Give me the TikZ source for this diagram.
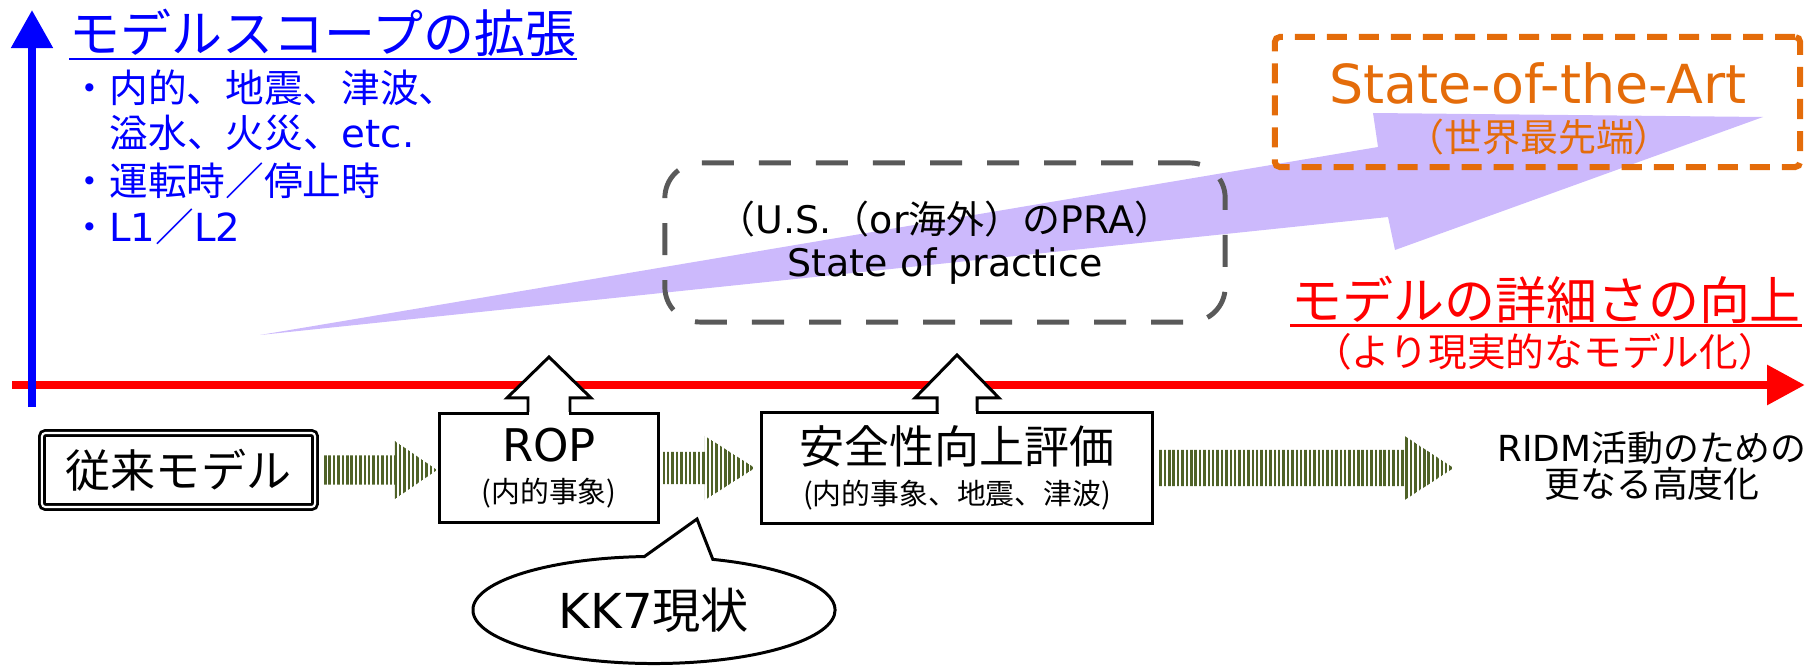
\documentclass[tikz,border=0pt]{standalone}
\usepackage{fontspec}
\setmainfont{Noto Sans CJK JP}
\newfontfamily\latinfont{DejaVu Sans}
\usetikzlibrary{arrows.meta}
\usetikzlibrary{calc}
\usetikzlibrary{shapes.callouts}
\usetikzlibrary{patterns.meta}
\pgfdeclarelayer{edgelayer}
\pgfdeclarelayer{nodelayer}
\pgfsetlayers{edgelayer,nodelayer,main}
\definecolor{scopeblue}{RGB}{0,0,255}
\definecolor{detailred}{RGB}{255,0,0}
\definecolor{artorange}{RGB}{228,108,10}
\definecolor{practgray}{RGB}{89,89,89}
\definecolor{wedgepurple}{RGB}{204,185,252}
\definecolor{stripegreen}{RGB}{79,98,40}
\newcommand{\subfont}{\fontsize{8.2pt}{10pt}\selectfont}
\tikzstyle{oldbox}=[rectangle,draw=black,double,double distance=0.6pt,line width=0.8pt,rounded corners=1pt,minimum width=2.73cm,minimum height=0.74cm,font=\fontsize{12.8pt}{14pt}\selectfont]
\tikzstyle{stage}=[rectangle,draw=black,fill=white,line width=0.85pt,outer sep=0pt,align=center,font=\fontsize{12.8pt}{11.7pt}\selectfont]
\tikzstyle{bubble}=[ellipse callout,draw=black,fill=white,line width=0.85pt,inner sep=0pt,minimum width=3.62cm,minimum height=1.07cm,callout pointer arc=22,font=\fontsize{13.7pt}{15pt}\selectfont]
\tikzstyle{practice}=[rectangle,draw=practgray,line width=1.4pt,dash pattern=on 0.32cm off 0.25cm,rounded corners=0.35cm,minimum width=5.6cm,minimum height=1.59cm,align=center,font=\fontsize{10.8pt}{12.2pt}\selectfont]
\tikzstyle{artbox}=[rectangle,draw=artorange,line width=1.7pt,dash pattern=on 0.2cm off 0.12cm,rounded corners=0.05cm,minimum width=5.25cm,minimum height=1.3cm]
\tikzstyle{heading}=[inner sep=0pt,font=\fontsize{14.5pt}{16pt}\selectfont]
\tikzstyle{listline}=[anchor=west,inner sep=0pt,text=scopeblue,font=\fontsize{11pt}{12pt}\selectfont]
\tikzstyle{uline}=[line width=0.6pt]
\tikzstyle{axis}=[line width=2.4pt]
\tikzstyle{stripes}=[pattern={Lines[angle=90,distance=1.25pt,line width=0.7pt]},pattern color=stripegreen]
\tikzstyle{uparrow}=[draw=black,fill=white,line width=0.85pt,line join=miter]

\begin{document}
\begin{tikzpicture}[x=0.01cm,y=-0.01cm]
	\useasboundingbox (0,0) rectangle (1816,670);
	\begin{pgfonlayer}{nodelayer}
		\node [style=oldbox] (0) at (178.5, 470) {従来モデル};
		\node [style=stage, minimum width=2.18cm, minimum height=1.08cm] (1) at (549, 468) {{\latinfont ROP}\\{\subfont (内的事象)}};
		\node [style=stage, minimum width=3.9cm, minimum height=1.1cm] (2) at (957, 468) {安全性向上評価\\{\subfont (内的事象、地震、津波)}};
		\node [align=center, inner sep=0pt, font=\fontsize{10.2pt}{10.2pt}\selectfont] (3) at (1652, 466) {{\latinfont RIDM}活動のための\\更なる高度化};
		\coordinate (20) at (697, 519);
		\node [style=bubble, callout absolute pointer={(20)}] (4) at (654, 610) {{\latinfont KK7}現状};
		\node [style=practice] (5) at (945, 242.5) {（{\latinfont U.S.}（{\latinfont or}海外）の{\latinfont PRA}）\\{\latinfont State of practice}};
		\node [style=artbox] (6) at (1537.5, 102) {};
		\node [text=artorange, inner sep=0pt, font=\fontsize{15.3pt}{16pt}\selectfont\latinfont] (14) at (1538, 83) {State-of-the-Art};
		\node [text=artorange, inner sep=0pt, font=\fontsize{10.8pt}{11pt}\selectfont] (15) at (1539, 137) {（世界最先端）};
		\node [style=heading, text=scopeblue, anchor=west] (7) at (69, 33) {モデルスコープの拡張};
		\node [style=listline] (8) at (70, 88) {・内的、地震、津波、};
		\node [style=listline] (9) at (109, 133) {溢水、火災、{\latinfont etc.}};
		\node [style=listline] (10) at (70, 181) {・運転時／停止時};
		\node [style=listline] (11) at (70, 227) {・{\latinfont L1}／{\latinfont L2}};
		\node [style=heading, text=detailred] (12) at (1546, 300) {モデルの詳細さの向上};
		\node [text=detailred, inner sep=0pt, font=\fontsize{11pt}{12pt}\selectfont] (13) at (1545, 352) {（より現実的なモデル化）};
	\end{pgfonlayer}
	\begin{pgfonlayer}{edgelayer}
		% widening arrow towards the state of the art
		\fill [wedgepurple] (260, 335) -- (1378, 147) -- (1373, 113) -- (1763, 117) -- (1395, 250) -- (1388, 217) -- cycle;
		\coordinate (16) at (12, 385);
		\coordinate (17) at (1805, 385);
		\coordinate (18) at (32, 407);
		\coordinate (19) at (32, 10);
		\draw [style=axis, draw=detailred, line width=2.55pt, -{Triangle[length=0.38cm,width=0.38cm]}] (16) to (17);
		\draw [style=axis, draw=scopeblue, line width=2.3pt, -{Triangle[length=0.38cm,width=0.4cm]}] (18) to (19);
		\draw [style=uline, draw=scopeblue] ([yshift=-0.015cm]7.south west) to ([yshift=-0.015cm]7.south east);
		\draw [style=uline, draw=detailred] ([yshift=-0.01cm]12.south west) to ([yshift=-0.01cm]12.south east);
		% striped arrows between the stages
		\fill [style=stripes] let \p1=(0.east), \p2=(1.west) in (\x1+0.06cm,\y1+0.145cm) -- (\x2-0.45cm,\y1+0.145cm) -- (\x2-0.45cm,\y1+0.29cm) -- (\x2-0.03cm,\y1) -- (\x2-0.45cm,\y1-0.29cm) -- (\x2-0.45cm,\y1-0.145cm) -- (\x1+0.06cm,\y1-0.145cm) -- cycle;
		\fill [style=stripes] let \p1=(1.east), \p2=(2.west) in (\x1+0.03cm,\y1+0.16cm) -- (\x2-0.57cm,\y1+0.16cm) -- (\x2-0.57cm,\y1+0.32cm) -- (\x2-0.07cm,\y1) -- (\x2-0.57cm,\y1-0.32cm) -- (\x2-0.57cm,\y1-0.16cm) -- (\x1+0.03cm,\y1-0.16cm) -- cycle;
		\fill [style=stripes] let \p1=(2.east), \p2=(3.west) in (\x1+0.05cm,\y1+0.18cm) -- (\x2-0.92cm,\y1+0.18cm) -- (\x2-0.92cm,\y1+0.32cm) -- (\x2-0.43cm,\y1) -- (\x2-0.92cm,\y1-0.32cm) -- (\x2-0.92cm,\y1-0.18cm) -- (\x1+0.05cm,\y1-0.18cm) -- cycle;
	\end{pgfonlayer}
	% block arrows rising from the stages
	\draw [style=uparrow] ([xshift=-0.21cm]1.north) -- ++(0,-16) -- ++(-21,0) -- ++(42,-41) -- ++(42,41) -- ++(-21,0) -- ++(0,16);
	\fill [white] ([xshift=-0.195cm,yshift=-0.02cm]1.north) rectangle ([xshift=0.195cm,yshift=0.02cm]1.north);
	\draw [style=uparrow] ([xshift=-0.2cm]2.north) -- ++(0,-15) -- ++(-22,0) -- ++(42,-43) -- ++(42,43) -- ++(-22,0) -- ++(0,15);
	\fill [white] ([xshift=-0.185cm,yshift=-0.02cm]2.north) rectangle ([xshift=0.185cm,yshift=0.02cm]2.north);
\end{tikzpicture}
\end{document}
